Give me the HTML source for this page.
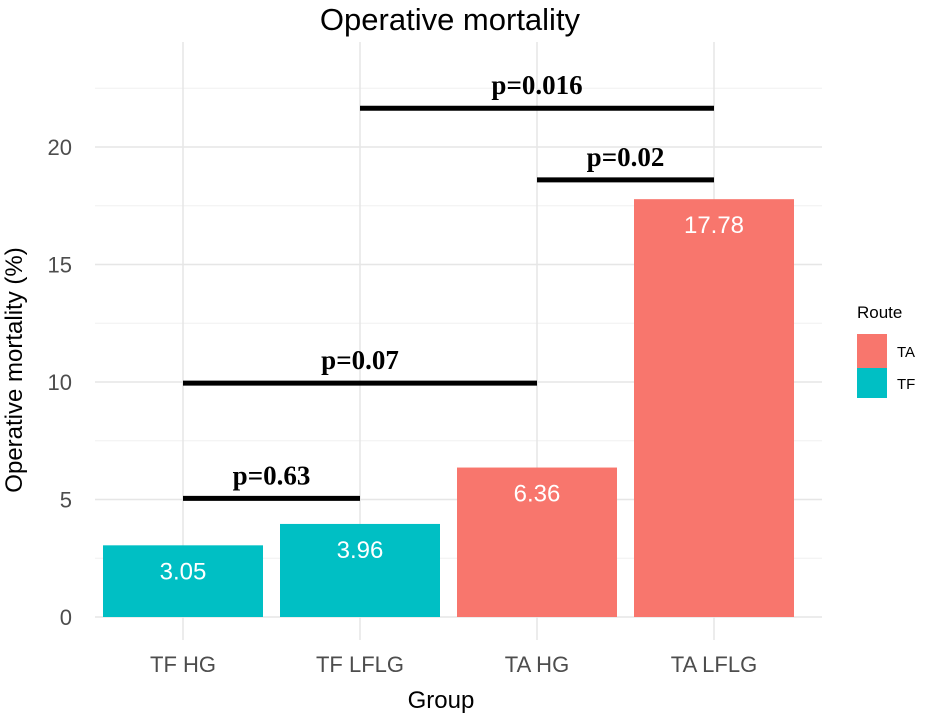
<!DOCTYPE html>
<html><head><meta charset="utf-8"><style>
body{margin:0;background:#fff}
svg{display:block;font-family:"Liberation Sans",sans-serif}
</style></head><body>
<svg id="chart" width="925" height="716">
<text x="450" y="30" font-size="31" text-anchor="middle" fill="#000">Operative mortality</text>
<g id="grid"></g><g id="bars"></g><g id="sig"></g><g id="axes"></g>
<text x="441" y="708" font-size="24" text-anchor="middle" fill="#000">Group</text>
<text transform="translate(22,370) rotate(-90)" font-size="24" text-anchor="middle" fill="#000">Operative mortality (%)</text>
<g>
<text x="857" y="318" font-size="17" fill="#000">Route</text>
<rect x="857" y="334" width="30" height="34" fill="#F8766D"/>
<text x="897" y="357" font-size="15" fill="#000">TA</text>
<rect x="857" y="368" width="30" height="30" fill="#00BFC4"/>
<text x="897" y="389" font-size="15" fill="#000">TF</text>
</g>
</svg>
<script>
const categories=["TF HG","TF LFLG","TA HG","TA LFLG"];
const values=[3.05,3.96,6.36,17.78];
const routes=["TF","TF","TA","TA"];
const yTicks=[0,5,10,15,20];
const sigFrom=[0,0,2,1];
const sigTo=[1,2,3,3];
const sigY=[5.05,9.95,18.6,21.65];
const sigLabels=["p=0.63","p=0.07","p=0.02","p=0.016"];
const NS="http://www.w3.org/2000/svg";
const y=v=>617-v*23.5;
const x=i=>183+i*177;
const L=95,R=822,T=42,B=640;
const colors={TA:"#F8766D",TF:"#00BFC4"};
function mk(t,a,p){const e=document.createElementNS(NS,t);for(const k in a)e.setAttribute(k,a[k]);p.appendChild(e);return e;}
const grid=document.getElementById('grid');
for(let v=2.5;v<=22.5;v+=5){const l=mk('line',{x1:L,x2:R,y1:y(v),y2:y(v),stroke:'#f0f0f0','stroke-width':1},grid);

}
yTicks.forEach(v=>{const l=mk('line',{x1:L,x2:R,y1:y(v),y2:y(v),stroke:'#e6e6e6','stroke-width':1.5},grid);


const t=mk('text',{x:72,y:y(v)+8,'font-size':22,'text-anchor':'end',fill:'#4d4d4d'},grid);t.textContent=v;

});
categories.forEach((c,i)=>{const l=mk('line',{x1:x(i),x2:x(i),y1:T,y2:B,stroke:'#e6e6e6','stroke-width':1.5},grid);


const t=mk('text',{x:x(i),y:672,'font-size':22,'text-anchor':'middle',fill:'#4d4d4d'},grid);t.textContent=c;

});
const bars=document.getElementById('bars');
values.forEach((v,i)=>{const r=mk('rect',{x:x(i)-80,y:y(v),width:160,height:y(0)-y(v),fill:colors[routes[i]]},bars);


const t=mk('text',{x:x(i),y:y(v)+34,'font-size':24,'text-anchor':'middle',fill:'#fff'},bars);t.textContent=v.toFixed(2);

});
const sig=document.getElementById('sig');
sigY.forEach((v,i)=>{const l=mk('line',{x1:x(sigFrom[i]),x2:x(sigTo[i]),y1:y(v),y2:y(v),stroke:'#000','stroke-width':5},sig);


const t=mk('text',{x:(x(sigFrom[i])+x(sigTo[i]))/2,y:y(v)-14,'font-size':27,'font-weight':'bold','font-family':'Liberation Serif, serif','text-anchor':'middle',fill:'#000'},sig);t.textContent=sigLabels[i];

});
</script>
</body></html>
